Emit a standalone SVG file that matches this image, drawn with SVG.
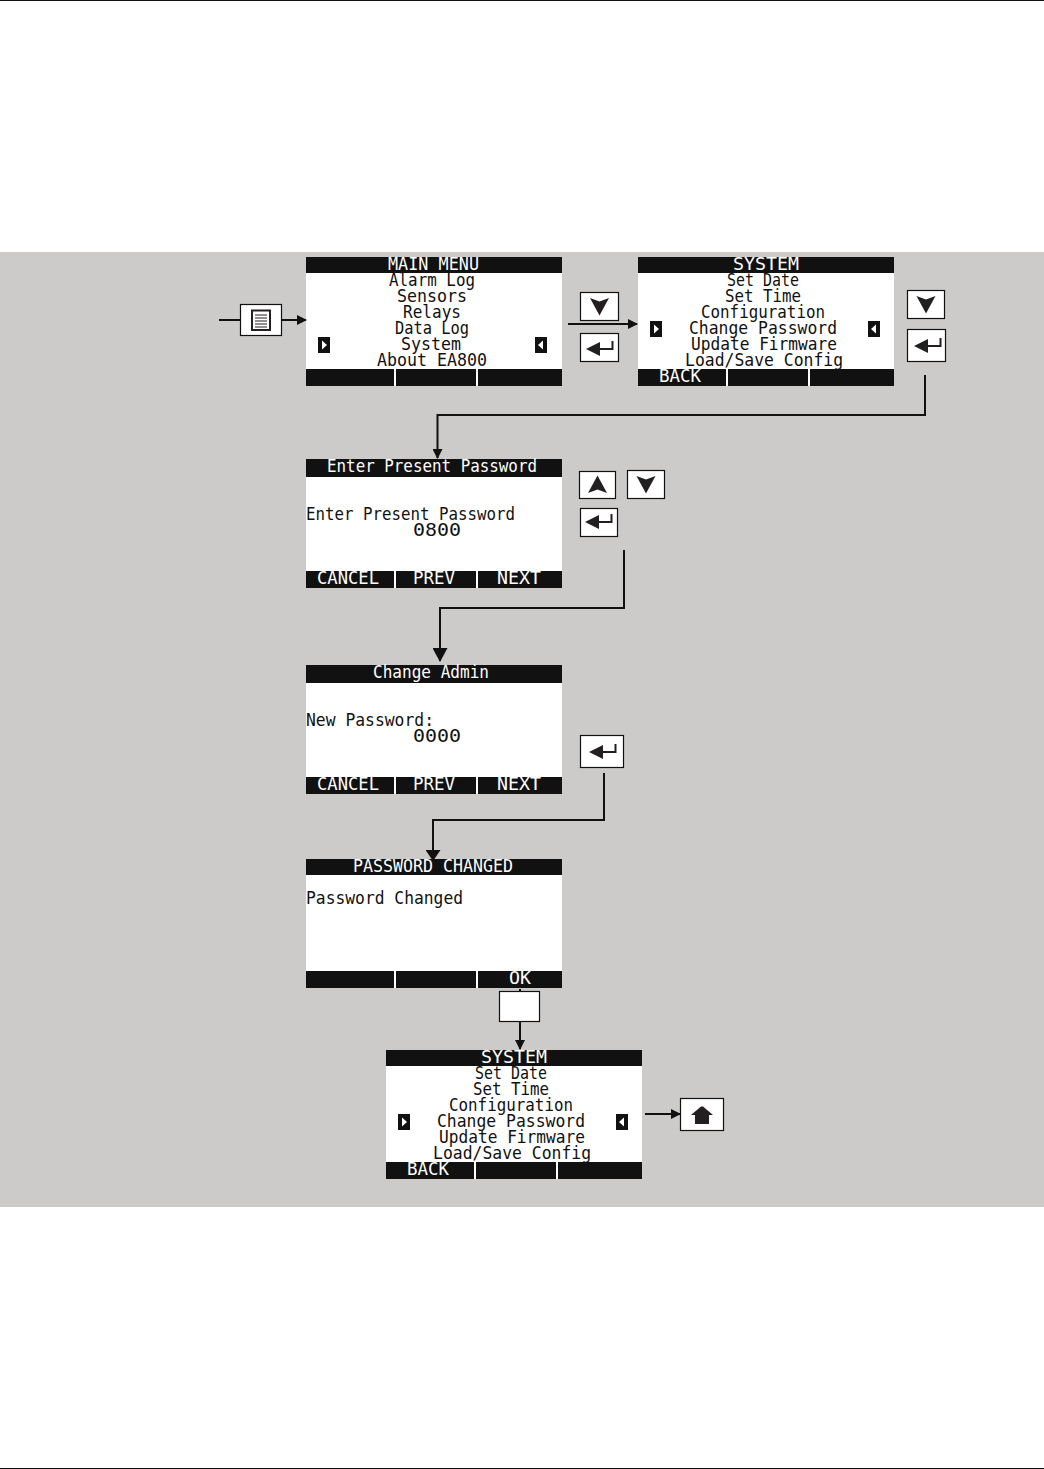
<svg xmlns="http://www.w3.org/2000/svg" width="1044" height="1469" viewBox="0 0 1044 1469">
<style>
.t{font-family:"DejaVu Sans Mono","Liberation Mono",monospace;font-size:18px;fill:#111}
.w{fill:#fff}
.scr{fill:#fff}
.bar{fill:#111}
.key{fill:#fff;stroke:#111;stroke-width:1.2}
.ic{fill:#231f20}
.ln{fill:none;stroke:#111;stroke-width:2}
.nav{fill:#111}
</style>
<defs>
<marker id="a" markerUnits="userSpaceOnUse" markerWidth="10" markerHeight="10" refX="9" refY="5" orient="auto"><path d="M0 0L10 5L0 10Z" fill="#111"/></marker>
<marker id="b" markerUnits="userSpaceOnUse" markerWidth="14" markerHeight="15" refX="13" refY="7.500" orient="auto"><path d="M0 0L14 7.500L0 15Z" fill="#111"/></marker>
<marker id="c" markerUnits="userSpaceOnUse" markerWidth="11" markerHeight="15" refX="10" refY="7.500" orient="auto"><path d="M0 0L11 7.500L0 15Z" fill="#111"/></marker>
<g id="navL"><rect width="12" height="16" class="nav"/><path d="M4 3.500L9 8L4 12.500Z" fill="#fff"/></g>
<g id="navR"><rect width="12" height="16" class="nav"/><path d="M8 3.500L3 8L8 12.500Z" fill="#fff"/></g>
<g id="dn"><path d="M-9.500 -8L0 -4.500L9.500 -8L0 9.500Z" class="ic"/></g>
<g id="up"><path d="M-9.500 8L0 4.500L9.500 8L0 -9.500Z" class="ic"/></g>
<g id="ent"><path d="M-4 1H12.500V-7" fill="none" stroke="#231f20" stroke-width="2"/><path d="M-14 1L0 -6V8Z" class="ic"/></g>
</defs>
<rect x="0" y="0" width="1044" height="1" fill="#111"/>
<rect x="0" y="1468" width="1044" height="1" fill="#111"/>
<rect x="0" y="252" width="1044" height="955" fill="#cccbc9"/>
<g id="key-menu"><rect class="key" x="240.500" y="304.500" width="41" height="31"/><rect x="252" y="310.500" width="18" height="19.500" fill="#fff" stroke="#231f20" stroke-width="2"/><path d="M255 315H267M255 318H267M255 321H267M255 324H267M255 327H267" stroke="#231f20" stroke-width="1"/></g>
<g id="screen-main">
<rect class="scr" x="306" y="257" width="256" height="129"/><rect class="bar" x="306" y="257" width="256" height="16"/><rect class="bar" x="306" y="369" width="256" height="17"/><rect class="w" x="394" y="369" width="2" height="17"/><rect class="w" x="476" y="369" width="2" height="17"/>
<use href="#navL" x="318" y="337"/><use href="#navR" x="535" y="337"/>
<text class="t w" x="388" y="270" textLength="91" lengthAdjust="spacingAndGlyphs">MAIN MENU</text>
<text class="t" x="389" y="286" textLength="86" lengthAdjust="spacingAndGlyphs">Alarm Log</text>
<text class="t" x="397" y="302" textLength="70" lengthAdjust="spacingAndGlyphs">Sensors</text>
<text class="t" x="403" y="318" textLength="58" lengthAdjust="spacingAndGlyphs">Relays</text>
<text class="t" x="395" y="334" textLength="74" lengthAdjust="spacingAndGlyphs">Data Log</text>
<text class="t" x="401" y="350" textLength="60" lengthAdjust="spacingAndGlyphs">System</text>
<text class="t" x="377" y="366" textLength="110" lengthAdjust="spacingAndGlyphs">About EA800</text>
</g>
<g id="key-down-1"><rect class="key" x="580.500" y="292.500" width="38" height="28"/><use href="#dn" x="599.500" y="306"/></g>
<g id="key-enter-1"><rect class="key" x="580.500" y="333.500" width="38" height="28"/><use href="#ent" x="600" y="348"/></g>
<g id="screen-system-1">
<rect class="scr" x="638" y="257" width="256" height="129"/><rect class="bar" x="638" y="257" width="256" height="16"/><rect class="bar" x="638" y="369" width="256" height="17"/><rect class="w" x="726" y="369" width="2" height="17"/><rect class="w" x="808" y="369" width="2" height="17"/>
<use href="#navL" x="650" y="321"/><use href="#navR" x="868" y="321"/>
<text class="t w" x="733" y="270" textLength="66" lengthAdjust="spacingAndGlyphs">SYSTEM</text>
<text class="t" x="727" y="286" textLength="72" lengthAdjust="spacingAndGlyphs">Set Date</text>
<text class="t" x="725" y="302" textLength="76" lengthAdjust="spacingAndGlyphs">Set Time</text>
<text class="t" x="701" y="318" textLength="124" lengthAdjust="spacingAndGlyphs">Configuration</text>
<text class="t" x="689" y="334" textLength="148" lengthAdjust="spacingAndGlyphs">Change Password</text>
<text class="t" x="691" y="350" textLength="146" lengthAdjust="spacingAndGlyphs">Update Firmware</text>
<text class="t" x="685" y="366" textLength="158" lengthAdjust="spacingAndGlyphs">Load/Save Config</text>
<text class="t w" x="659" y="382" textLength="42" lengthAdjust="spacingAndGlyphs">BACK</text>
</g>
<g id="key-down-2"><rect class="key" x="907.500" y="290.500" width="37" height="28"/><use href="#dn" x="926" y="304"/></g>
<g id="key-enter-2"><rect class="key" x="907.500" y="329.500" width="38" height="32"/><use href="#ent" x="928" y="345"/></g>
<g id="screen-present">
<rect class="scr" x="306" y="459" width="256" height="129"/><rect class="bar" x="306" y="459" width="256" height="18"/><rect class="bar" x="306" y="571" width="256" height="17"/><rect class="w" x="394" y="571" width="2" height="17"/><rect class="w" x="476" y="571" width="2" height="17"/>
<text class="t w" x="327" y="472" textLength="210" lengthAdjust="spacingAndGlyphs">Enter Present Password</text>
<text class="t" x="306" y="520" textLength="209" lengthAdjust="spacingAndGlyphs">Enter Present Password</text>
<text class="t" x="413" y="536" textLength="48" lengthAdjust="spacingAndGlyphs">0800</text>
<text class="t w" x="317" y="584" textLength="62" lengthAdjust="spacingAndGlyphs">CANCEL</text>
<text class="t w" x="413" y="584" textLength="42" lengthAdjust="spacingAndGlyphs">PREV</text>
<text class="t w" x="497" y="584" textLength="44" lengthAdjust="spacingAndGlyphs">NEXT</text>
</g>
<g id="key-up"><rect class="key" x="579.500" y="471.500" width="36" height="27"/><use href="#up" x="597.500" y="485"/></g>
<g id="key-down-3"><rect class="key" x="627.500" y="470.500" width="37" height="28"/><use href="#dn" x="646" y="484"/></g>
<g id="key-enter-3"><rect class="key" x="580.500" y="508.500" width="37" height="28"/><use href="#ent" x="599" y="521"/></g>
<g id="screen-admin">
<rect class="scr" x="306" y="665" width="256" height="129"/><rect class="bar" x="306" y="665" width="256" height="18"/><rect class="bar" x="306" y="777" width="256" height="17"/><rect class="w" x="394" y="777" width="2" height="17"/><rect class="w" x="476" y="777" width="2" height="17"/>
<text class="t w" x="373" y="678" textLength="116" lengthAdjust="spacingAndGlyphs">Change Admin</text>
<text class="t" x="306" y="726" textLength="128" lengthAdjust="spacingAndGlyphs">New Password:</text>
<text class="t" x="413" y="742" textLength="48" lengthAdjust="spacingAndGlyphs">0000</text>
<text class="t w" x="317" y="790" textLength="62" lengthAdjust="spacingAndGlyphs">CANCEL</text>
<text class="t w" x="413" y="790" textLength="42" lengthAdjust="spacingAndGlyphs">PREV</text>
<text class="t w" x="497" y="790" textLength="44" lengthAdjust="spacingAndGlyphs">NEXT</text>
</g>
<g id="key-enter-4"><rect class="key" x="580.500" y="735.500" width="43" height="32"/><use href="#ent" x="603" y="751"/></g>
<g id="screen-changed">
<rect class="scr" x="306" y="859" width="256" height="129"/><rect class="bar" x="306" y="859" width="256" height="16"/><rect class="bar" x="306" y="971" width="256" height="17"/><rect class="w" x="394" y="971" width="2" height="17"/><rect class="w" x="476" y="971" width="2" height="17"/>
<text class="t w" x="353" y="872" textLength="160" lengthAdjust="spacingAndGlyphs">PASSWORD CHANGED</text>
<text class="t" x="306" y="904" textLength="157" lengthAdjust="spacingAndGlyphs">Password Changed</text>
<text class="t w" x="509" y="984" textLength="22" lengthAdjust="spacingAndGlyphs">OK</text>
</g>
<g id="key-blank"><rect class="key" x="499.500" y="991.500" width="40" height="30"/></g>
<g id="screen-system-2">
<rect class="scr" x="386" y="1050" width="256" height="129"/><rect class="bar" x="386" y="1050" width="256" height="16"/><rect class="bar" x="386" y="1162" width="256" height="17"/><rect class="w" x="474" y="1162" width="2" height="17"/><rect class="w" x="556" y="1162" width="2" height="17"/>
<use href="#navL" x="398" y="1114"/><use href="#navR" x="616" y="1114"/>
<text class="t w" x="481" y="1063" textLength="66" lengthAdjust="spacingAndGlyphs">SYSTEM</text>
<text class="t" x="475" y="1079" textLength="72" lengthAdjust="spacingAndGlyphs">Set Date</text>
<text class="t" x="473" y="1095" textLength="76" lengthAdjust="spacingAndGlyphs">Set Time</text>
<text class="t" x="449" y="1111" textLength="124" lengthAdjust="spacingAndGlyphs">Configuration</text>
<text class="t" x="437" y="1127" textLength="148" lengthAdjust="spacingAndGlyphs">Change Password</text>
<text class="t" x="439" y="1143" textLength="146" lengthAdjust="spacingAndGlyphs">Update Firmware</text>
<text class="t" x="433" y="1159" textLength="158" lengthAdjust="spacingAndGlyphs">Load/Save Config</text>
<text class="t w" x="407" y="1175" textLength="42" lengthAdjust="spacingAndGlyphs">BACK</text>
</g>
<g id="key-home"><rect class="key" x="680.500" y="1098.500" width="43" height="32"/><path d="M691 1115L701 1106.500H703L713 1115H709V1124H695V1115Z" class="ic"/></g>
<g id="connectors">
<path class="ln" d="M219 320H240"/>
<path class="ln" marker-end="url(#a)" d="M282 320H306"/>
<path class="ln" marker-end="url(#a)" d="M568 324H637"/>
<path class="ln" marker-end="url(#a)" d="M925 375V415H437.500V458"/>
<path class="ln" marker-end="url(#b)" d="M624 550V608H440V661"/>
<path class="ln" marker-end="url(#c)" d="M604 773V820H433V860"/>
<path class="ln" d="M520 989V991"/>
<path class="ln" marker-end="url(#a)" d="M520 1022V1049"/>
<path class="ln" marker-end="url(#a)" d="M645 1114H680"/>
</g>
</svg>
